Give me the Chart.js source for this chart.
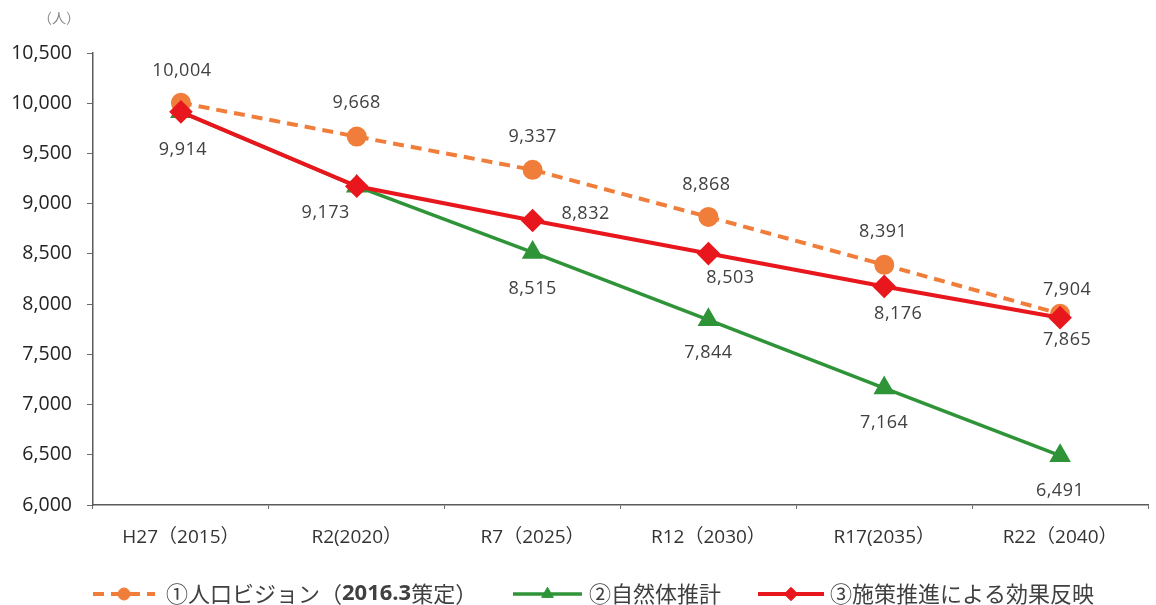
<!DOCTYPE html>
<html lang="ja">
<head>
<meta charset="utf-8">
<script src="https://cdn.jsdelivr.net/npm/chart.js@4"></script>
<style>
  html, body { margin: 0; padding: 0; background: #fff; overflow: hidden; }
  #wrap { position: relative; width: 1161px; height: 605px; }
</style>
</head>
<body>
<div id="wrap"><canvas id="c"></canvas></div>
<script>
// Categories (year labels)
const categories = ['H27（2015）', 'R2(2020）', 'R7（2025）', 'R12（2030）', 'R17(2035）', 'R22（2040）'];

// Series values (persons)
const visionValues  = [10004, 9668, 9337, 8868, 8391, 7904];   // ①人口ビジョン（2016.3策定）
const naturalValues = [9914, 9173, 8515, 7844, 7164, 6491];    // ②自然体推計
const policyValues  = [9914, 9173, 8832, 8503, 8176, 7865];    // ③施策推進による効果反映

// Y axis ticks
const yMin = 6000, yMax = 10500, yStep = 500;

// Value label placement relative to each point (null = no label)
const visionLabelOffsets  = [[1, -32], [0, -34], [0, -33], [-2, -32], [-1, -33], [7, -24]];
const naturalLabelOffsets = [[2, 38], [-31, 27], [0, 36], [0, 33], [0, 35], [0, 35]];
const policyLabelOffsets  = [null, null, [53, -7], [22, 24], [14, 27], [7, 22]];

const ORANGE = '#F07E3A';
const GREEN = '#2F9438';
const RED = '#E8171D';
const TEXT = '#404040';
const NUM_FONT = '"Open Sans", "Noto Sans CJK JP", sans-serif';
const JP_FONT = '"Noto Sans CJK JP", sans-serif';

const fmt = v => v.toLocaleString('en-US');

// Draws value labels next to each point
const valueLabels = {
  id: 'valueLabels',
  afterDatasetsDraw(chart) {
    const ctx = chart.ctx;
    ctx.save();
    ctx.font = '18px ' + NUM_FONT;
    ctx.letterSpacing = '0.5px';
    ctx.fillStyle = TEXT;
    ctx.textAlign = 'center';
    ctx.textBaseline = 'middle';
    chart.data.datasets.forEach((ds, di) => {
      const meta = chart.getDatasetMeta(di);
      meta.data.forEach((pt, i) => {
        const off = ds.labelOffsets[i];
        if (!off) return;
        ctx.fillText(fmt(ds.data[i]), pt.x + off[0], pt.y + off[1]);
      });
    });
    ctx.restore();
  }
};

// Unit caption and bottom legend (line + marker + text)
const decorations = {
  id: 'decorations',
  afterDraw(chart) {
    const ctx = chart.ctx;
    ctx.save();
    ctx.fillStyle = '#8a8a8a';
    ctx.font = '14px ' + JP_FONT;
    ctx.textBaseline = 'middle';
    ctx.textAlign = 'left';
    ctx.fillText('（人）', 38, 18);

    const y = 594;
    const items = [
      { ds: 0, x0: 93, x1: 155, tx: 166, parts: [['①人口ビジョン（', false], ['2016.3', true], ['策定）', false]] },
      { ds: 1, x0: 513, x1: 582, tx: 589, parts: [['②自然体推計', false]] },
      { ds: 2, x0: 758, x1: 824, tx: 830, parts: [['③施策推進による効果反映', false]] }
    ];
    items.forEach(it => {
      const ds = chart.data.datasets[it.ds];
      ctx.save();
      ctx.strokeStyle = ds.borderColor;
      ctx.lineWidth = ds.borderWidth;
      ctx.setLineDash(ds.borderDash || []);
      ctx.beginPath();
      ctx.moveTo(it.x0, y);
      ctx.lineTo(it.x1, y);
      ctx.stroke();
      ctx.restore();
      ctx.save();
      ctx.fillStyle = ds.pointBackgroundColor;
      ctx.strokeStyle = ds.pointBorderColor;
      Chart.helpers.drawPoint(ctx, {
        pointStyle: ds.pointStyle,
        radius: ds.pointRadius * 0.75,
        borderWidth: 1,
        rotation: 0
      }, (it.x0 + it.x1) / 2, y);
      ctx.restore();
      let x = it.tx;
      ctx.fillStyle = TEXT;
      ctx.textAlign = 'left';
      ctx.textBaseline = 'middle';
      it.parts.forEach(([t, bold]) => {
        ctx.font = (bold ? 'bold ' : '') + '22px ' + (bold ? NUM_FONT : JP_FONT);
        ctx.fillText(t, x, y);
        x += ctx.measureText(t).width;
      });
    });
    ctx.restore();
  }
};

const ctx = document.getElementById('c');
const chart = new Chart(ctx, {
  type: 'line',
  data: {
    labels: categories,
    datasets: [
      {
        label: '①人口ビジョン（2016.3策定）',
        data: visionValues,
        labelOffsets: visionLabelOffsets,
        borderColor: ORANGE,
        backgroundColor: ORANGE,
        pointBackgroundColor: ORANGE,
        pointBorderColor: ORANGE,
        borderWidth: 4,
        borderDash: [11, 7],
        pointStyle: 'circle',
        pointRadius: 8,
        order: 2
      },
      {
        label: '②自然体推計',
        data: naturalValues,
        labelOffsets: naturalLabelOffsets,
        borderColor: GREEN,
        backgroundColor: GREEN,
        pointBackgroundColor: GREEN,
        pointBorderColor: GREEN,
        borderWidth: 3.5,
        pointStyle: 'triangle',
        pointRadius: 9,
        order: 3
      },
      {
        label: '③施策推進による効果反映',
        data: policyValues,
        labelOffsets: policyLabelOffsets,
        borderColor: RED,
        backgroundColor: RED,
        pointBackgroundColor: RED,
        pointBorderColor: RED,
        borderWidth: 4,
        pointStyle: 'rectRot',
        pointRadius: 9,
        order: 1
      }
    ]
  },
  options: {
    responsive: true,
    maintainAspectRatio: false,
    animation: false,
    events: [],
    layout: { padding: { top: 53, left: 0, right: 0, bottom: 0 } },
    plugins: {
      legend: { display: false },
      tooltip: { enabled: false }
    },
    scales: {
      x: {
        offset: true,
        grid: {
          offset: true,
          drawOnChartArea: false,
          drawTicks: true,
          tickLength: 4,
          color: '#6b6b6b'
        },
        border: { color: '#5a5a5a', width: 1.5 },
        ticks: {
          color: '#333',
          font: { family: NUM_FONT, size: 19 },
          padding: 17,
          maxRotation: 0,
          autoSkip: false
        },
        afterFit(s) { s.height = 100; }
      },
      y: {
        min: yMin,
        max: yMax,
        grid: {
          drawOnChartArea: false,
          tickLength: 6,
          color: '#6b6b6b'
        },
        border: { color: '#5a5a5a', width: 1.5 },
        ticks: {
          stepSize: yStep,
          color: '#222',
          font: { family: NUM_FONT, size: 19.5 },
          padding: 15,
          callback: v => fmt(v)
        },
        afterFit(s) { s.width = 93; }
      }
    }
  },
  plugins: [valueLabels, decorations]
});
</script>
</body>
</html>
